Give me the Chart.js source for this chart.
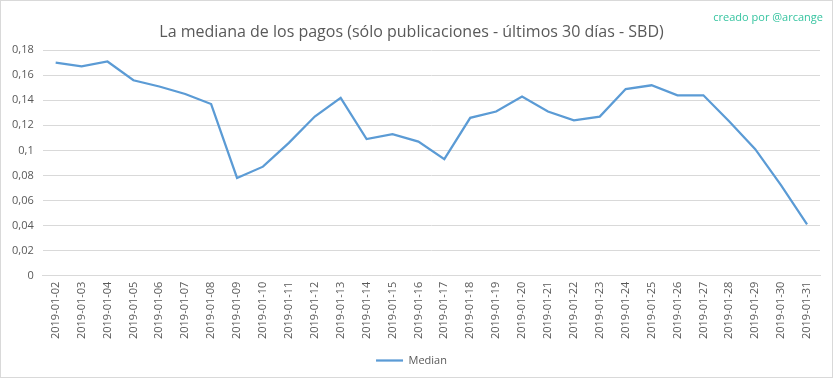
<!DOCTYPE html>
<html>
<head>
<meta charset="utf-8">
<script src="https://cdn.jsdelivr.net/npm/chart.js@4"></script>
<style>
  html, body { margin: 0; padding: 0; background: #fff; }
  #wrap { position: relative; width: 831px; height: 376px; border: 1px solid #d9d9d9; }
  #credit { position: absolute; right: 9px; top: 8px; font: 11px "Open Sans", sans-serif; color: #36c4a0; }
</style>
</head>
<body>
<div id="wrap">
  <canvas id="chart" width="831" height="376"></canvas>
  <div id="credit">creado por @arcange</div>
</div>
<script>
// dates shown on the x axis
const days = [
  '2019-01-02', '2019-01-03', '2019-01-04', '2019-01-05', '2019-01-06', '2019-01-07',
  '2019-01-08', '2019-01-09', '2019-01-10', '2019-01-11', '2019-01-12', '2019-01-13',
  '2019-01-14', '2019-01-15', '2019-01-16', '2019-01-17', '2019-01-18', '2019-01-19',
  '2019-01-20', '2019-01-21', '2019-01-22', '2019-01-23', '2019-01-24', '2019-01-25',
  '2019-01-26', '2019-01-27', '2019-01-28', '2019-01-29', '2019-01-30', '2019-01-31'
];

// median payout (SBD)
const median = [
  0.170, 0.167, 0.171, 0.156, 0.151, 0.145,
  0.137, 0.078, 0.087, 0.106, 0.127, 0.142,
  0.109, 0.113, 0.107, 0.093, 0.126, 0.131,
  0.143, 0.131, 0.124, 0.127, 0.149, 0.152,
  0.144, 0.144, 0.123, 0.101, 0.072, 0.041
];

const yTicks = [0, 0.02, 0.04, 0.06, 0.08, 0.1, 0.12, 0.14, 0.16, 0.18];

const grey = '#595959';
const font = '"Open Sans", sans-serif';

new Chart(document.getElementById('chart'), {
    type: 'line',
    data: {
        labels: days,
        datasets: [{
            label: 'Median',
            data: median,
            borderColor: '#5b9bd5',
            backgroundColor: '#5b9bd5',
            borderWidth: 2.25,
            pointRadius: 0,
            tension: 0,
            fill: false
        }]
    },
    options: {
        responsive: false,
        animation: false,
        layout: { padding: { left: 2, right: 12, top: 6, bottom: 1 } },
        plugins: {
            title: {
                display: true,
                text: 'La mediana de los pagos (sólo publicaciones - últimos 30 días - SBD)',
                color: grey,
                font: { family: font, size: 16, weight: 'normal' },
                padding: { top: 16, bottom: 8 }
            },
            legend: {
                position: 'bottom',
                labels: {
                    usePointStyle: true,
                    pointStyle: 'line',
                    pointStyleWidth: 27,
                    color: grey,
                    font: { family: font, size: 11 }
                }
            },
            tooltip: { enabled: false }
        },
        scales: {
            x: {
                offset: true,
                grid: { display: false, drawTicks: false },
                border: { color: '#d9d9d9' },
                ticks: {
                    color: grey,
                    font: { family: font, size: 11 },
                    minRotation: 90,
                    maxRotation: 90,
                    autoSkip: false,
                    padding: 6
                }
            },
            y: {
                min: 0,
                max: 0.18,
                afterBuildTicks: axis => { axis.ticks = yTicks.map(v => ({ value: v })); },
                grid: { color: '#d9d9d9', drawTicks: false },
                border: { display: false },
                ticks: {
                    color: grey,
                    font: { family: font, size: 11 },
                    padding: 9,
                    callback: v => String(+v.toFixed(2)).replace('.', ',')
                }
            }
        }
    }
});
</script>
</body>
</html>
